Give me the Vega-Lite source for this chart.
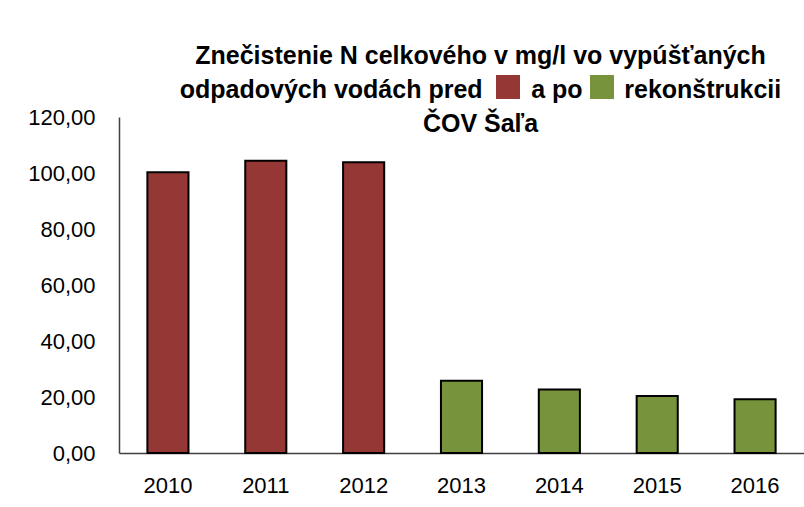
{
  "$schema": "https://vega.github.io/schema/vega-lite/v6.json",
  "width": 685,
  "height": 336,
  "autosize": {"type": "none"},
  "padding": {"left": 119, "top": 117, "right": 0, "bottom": 54},
  "background": "white",
  "title": {
    "text": ["Znečistenie N celkového v mg/l vo vypúšťaných", "odpadových vodách pred\u00a0\u00a0\u00a0\u00a0\u00a0\u00a0\u00a0a po\u00a0\u00a0\u00a0\u00a0\u00a0\u00a0rekonštrukcii", "ČOV Šaľa"],
    "font": "Liberation Sans",
    "fontSize": 25,
    "fontWeight": "bold",
    "color": "black",
    "anchor": "middle",
    "lineHeight": 34,
    "offset": 0,
    "dx": 19,
    "dy": 62
  },
  "data": {
    "values": [
      {"year": "2010", "value": 100.3, "period": "pred"},
      {"year": "2011", "value": 104.4, "period": "pred"},
      {"year": "2012", "value": 103.8, "period": "pred"},
      {"year": "2013", "value": 25.8, "period": "po"},
      {"year": "2014", "value": 22.7, "period": "po"},
      {"year": "2015", "value": 20.4, "period": "po"},
      {"year": "2016", "value": 19.2, "period": "po"}
    ]
  },
  "mark": {"type": "bar", "stroke": "black", "strokeWidth": 2},
  "encoding": {
    "x": {
      "field": "year",
      "type": "nominal",
      "title": null,
      "scale": {"paddingInner": 0.58, "paddingOuter": 0.29},
      "axis": {
        "labelAngle": 0,
        "ticks": false,
        "domainColor": "#404040",
        "domainWidth": 1.5,
        "labelFont": "Liberation Sans",
        "labelFontSize": 22,
        "labelColor": "black",
        "labelPadding": 22
      }
    },
    "y": {
      "field": "value",
      "type": "quantitative",
      "title": null,
      "scale": {"domain": [0, 120]},
      "axis": {
        "values": [0, 20, 40, 60, 80, 100, 120],
        "labelExpr": "replace(format(datum.value, '.2f'), '.', ',')",
        "grid": false,
        "ticks": false,
        "domainColor": "#404040",
        "domainWidth": 1.5,
        "labelFont": "Liberation Sans",
        "labelFontSize": 22,
        "labelColor": "black",
        "labelPadding": 24
      }
    },
    "color": {
      "field": "period",
      "type": "nominal",
      "scale": {"domain": ["pred", "po"], "range": ["#953735", "#77933C"]},
      "legend": {
        "orient": "none",
        "legendX": 377,
        "legendY": -42,
        "direction": "horizontal",
        "title": null,
        "symbolType": "square",
        "symbolSize": 576,
        "symbolStrokeWidth": 0,
        "labelExpr": "''",
        "columnPadding": 66,
        "padding": 0
      }
    }
  },
  "config": {"view": {"stroke": null}}
}
